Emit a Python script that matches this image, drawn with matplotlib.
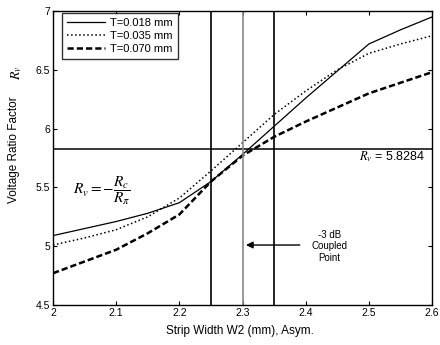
import matplotlib
matplotlib.use('Agg')
import matplotlib.pyplot as plt

plt.rcParams['font.family'] = ['Liberation Sans', 'DejaVu Sans']
plt.rcParams['mathtext.fontset'] = 'stix'

# strip width W2 (mm)
w2 = [2.0, 2.05, 2.1, 2.15, 2.2, 2.25, 2.3, 2.35, 2.4, 2.45, 2.5, 2.55, 2.6]
# voltage ratio factor for each thickness
rv_018 = [5.09, 5.15, 5.21, 5.28, 5.37, 5.55, 5.78, 6.02, 6.26, 6.49, 6.72, 6.84, 6.95]
rv_035 = [5.01, 5.07, 5.14, 5.25, 5.41, 5.64, 5.88, 6.12, 6.32, 6.50, 6.64, 6.72, 6.79]
rv_070 = [4.77, 4.87, 4.97, 5.11, 5.27, 5.55, 5.77, 5.93, 6.06, 6.18, 6.30, 6.39, 6.48]
labels = ['T=0.018 mm', 'T=0.035 mm', 'T=0.070 mm']

rv_target = 5.8284
w_marks = [2.25, 2.3, 2.35]

fig = plt.figure(figsize=(4.4, 3.45), dpi=100)
ax = fig.add_axes([0.1205, 0.116, 0.8615, 0.852])

ax.plot(w2, rv_018, '-', color='black', lw=0.9, label=labels[0])
ax.plot(w2, rv_035, ':', color='black', lw=1.1, label=labels[1])
ax.plot(w2, rv_070, '--', color='black', lw=1.8, dashes=(2.5, 1.2), label=labels[2])

ax.axhline(rv_target, color='black', lw=1.1)
ax.axvline(w_marks[0], color='black', lw=1.2)
ax.axvline(w_marks[1], color='#888888', lw=1.2)
ax.axvline(w_marks[2], color='black', lw=1.2)

ax.set_xlim(2.0, 2.6)
ax.set_ylim(4.5, 7.0)
ax.set_xticks([2.0, 2.1, 2.2, 2.3, 2.4, 2.5, 2.6])
ax.set_xticklabels(['2', '2.1', '2.2', '2.3', '2.4', '2.5', '2.6'])
ax.set_yticks([4.5, 5.0, 5.5, 6.0, 6.5, 7.0])
ax.set_yticklabels(['4.5', '5', '5.5', '6', '6.5', '7'])
ax.tick_params(direction='in', length=3, width=0.8, labelsize=7.5,
               top=True, right=True, pad=2)
for s in ax.spines.values():
  s.set_linewidth(1.0)

leg = ax.legend(loc='upper left', fontsize=8, frameon=True, fancybox=False,
                edgecolor='black', handlelength=3.4, borderpad=0.45,
                labelspacing=0.3, handletextpad=0.5, borderaxespad=0.0,
                bbox_to_anchor=(0.024, 0.995))
leg.get_frame().set_linewidth(1.0)

ax.text(2.032, 5.47, r'$R_v = -\dfrac{R_c}{R_\pi}$', fontsize=11, va='center')
ax.text(2.59, 5.76, r'$R_v$' + ' = 5.8284', fontsize=9, ha='right', va='center')
ax.text(2.437, 5.0, '-3 dB\nCoupled\nPoint', fontsize=7, ha='center', va='center',
        linespacing=1.2)
ax.annotate('', xy=(2.301, 5.01), xytext=(2.395, 5.01),
            arrowprops=dict(arrowstyle='-|>', color='black', lw=1.0,
                            mutation_scale=10))

fig.text(0.032, 0.565, 'Voltage Ratio Factor', rotation=90, fontsize=8.5,
         ha='center', va='center')
fig.text(0.038, 0.79, r'$R_v$', rotation=90, fontsize=10, ha='center', va='center')
fig.text(0.545, 0.04, 'Strip Width W2 (mm), Asym.', fontsize=8.5,
         ha='center', va='center')

fig.savefig('out.png', dpi=100)
